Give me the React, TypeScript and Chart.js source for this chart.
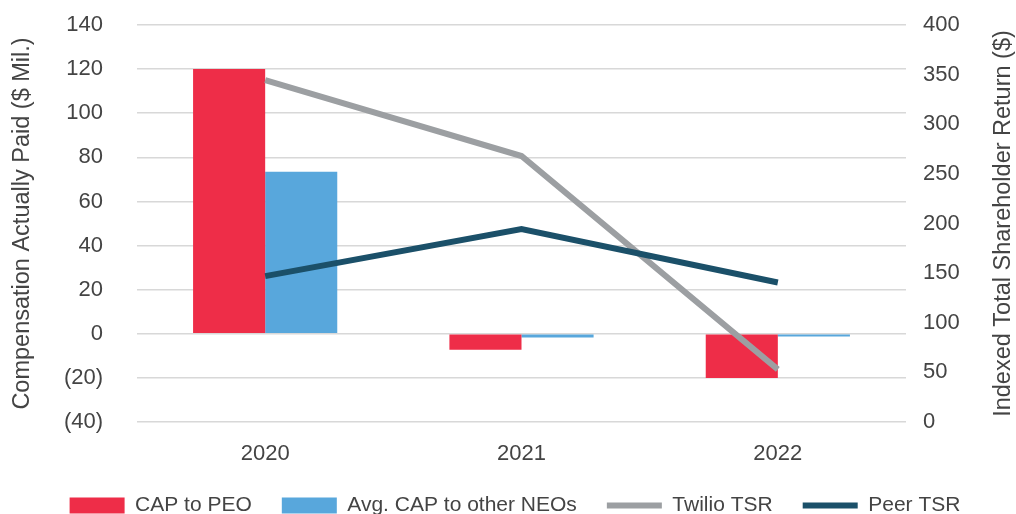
import React, { useEffect, useRef } from "react";
import { Chart, registerables } from "chart.js";

Chart.register(...registerables);

const categories = ["2020", "2021", "2022"];
const capToPeo = [120, -7.2, -20];
const avgCapNeos = [73.5, -1.7, -1.2];
const twilioTsr = [344.5, 268, 53];
const peerTsr = [147, 194.5, 140.5];

const leftTicksMin = -40;
const leftTicksMax = 140;
const leftStep = 20;
const rightTicksMin = 0;
const rightTicksMax = 400;
const rightStep = 50;

const leftTitle = "Compensation Actually Paid ($ Mil.)";
const rightTitle = "Indexed Total Shareholder Return ($)";

const FONT = "'Liberation Sans', Arial, sans-serif";
const TEXT = "#444444";
const H = 526;

const rightTitlePlugin = {
  id: "rightTitle",
  afterDraw(chart: any) {
    const scale = chart.scales.y1;
    const ctx = chart.ctx;
    ctx.save();
    ctx.font = `23.5px ${FONT}`;
    ctx.fillStyle = TEXT;
    ctx.textAlign = "center";
    ctx.textBaseline = "middle";
    ctx.translate(1004, (scale.top + scale.bottom) / 2);
    ctx.rotate(-Math.PI / 2);
    ctx.fillText(rightTitle, 0, 0);
    ctx.restore();
  },
};

export default function App() {
  const ref = useRef<HTMLCanvasElement | null>(null);
  useEffect(() => {
    document.body.style.margin = "0";
    const canvas = ref.current!;
    const chart = new Chart(canvas, {
      type: "bar",
      data: {
        labels: categories,
        datasets: [
          {
            type: "bar",
            label: "CAP to PEO",
            data: capToPeo,
            backgroundColor: "#ee2d48",
            borderWidth: 0,
            yAxisID: "y",
            order: 2,
            categoryPercentage: 0.5625,
            barPercentage: 1,
          } as any,
          {
            type: "bar",
            label: "Avg. CAP to other NEOs",
            data: avgCapNeos,
            backgroundColor: "#58a7dc",
            borderWidth: 0,
            yAxisID: "y",
            order: 2,
            categoryPercentage: 0.5625,
            barPercentage: 1,
          } as any,
          {
            type: "line",
            label: "Twilio TSR",
            data: twilioTsr,
            borderColor: "#9c9fa2",
            backgroundColor: "#9c9fa2",
            borderWidth: 6,
            pointRadius: 0,
            tension: 0,
            yAxisID: "y1",
            order: 1,
          } as any,
          {
            type: "line",
            label: "Peer TSR",
            data: peerTsr,
            borderColor: "#1b5069",
            backgroundColor: "#1b5069",
            borderWidth: 6,
            pointRadius: 0,
            tension: 0,
            yAxisID: "y1",
            order: 0,
          } as any,
        ],
      },
      options: {
        animation: false,
        responsive: false,
        maintainAspectRatio: false,
        layout: { padding: { top: 25, left: 14, right: 0, bottom: 0 } },
        plugins: {
          tooltip: { enabled: false },
          legend: {
            position: "bottom",
            labels: {
              usePointStyle: true,
              pointStyleWidth: 55,
              boxHeight: 16,
              padding: 30,
              color: TEXT,
              font: { family: FONT, size: 21 },
              generateLabels(c: any) {
                return c.data.datasets.map((ds: any, i: number) => {
                  const isLine = ds.type === "line";
                  return {
                    text: ds.label,
                    datasetIndex: i,
                    fillStyle: ds.backgroundColor,
                    strokeStyle: isLine ? ds.borderColor : ds.backgroundColor,
                    lineWidth: isLine ? 6 : 0,
                    pointStyle: isLine ? "line" : "rect",
                    fontColor: TEXT,
                    hidden: false,
                  };
                });
              },
            },
          },
        },
        scales: {
          x: {
            grid: { display: false, drawTicks: true, tickLength: 14, tickColor: "rgba(0,0,0,0)" },
            border: { display: false },
            ticks: { color: TEXT, font: { family: FONT, size: 22 }, padding: 5 },
            afterFit(s: any) {
              s.height = 43;
            },
          },
          y: {
            position: "left",
            min: leftTicksMin,
            max: leftTicksMax,
            ticks: {
              stepSize: leftStep,
              color: TEXT,
              font: { family: FONT, size: 22 },
              padding: 2,
              callback: (v: any) => (v < 0 ? `(${Math.abs(v)})` : `${v}`),
            },
            grid: { color: "#d8d8d8", lineWidth: 1.5, drawTicks: true, tickLength: 32, tickColor: "rgba(0,0,0,0)" },
            border: { display: false },
            title: {
              display: true,
              text: leftTitle,
              color: TEXT,
              font: { family: FONT, size: 23.5 },
              padding: { top: -6, bottom: 0 },
            },
            afterFit(s: any) {
              s.width = 123;
            },
          },
          y1: {
            position: "right",
            min: rightTicksMin,
            max: rightTicksMax,
            ticks: {
              stepSize: rightStep,
              color: TEXT,
              font: { family: FONT, size: 22 },
              padding: 2,
            },
            grid: { display: false, drawTicks: true, tickLength: 15, tickColor: "rgba(0,0,0,0)" },
            border: { display: false },
            afterFit(s: any) {
              s.width = 110;
            },
          },
        },
      },
      plugins: [rightTitlePlugin],
    });
    return () => chart.destroy();
  }, []);
  return (
    <div style={{ position: "absolute", left: 0, top: 0, width: 1016, height: H }}>
      <canvas ref={ref} width={1016} height={H} style={{ width: 1016, height: H }} />
    </div>
  );
}
